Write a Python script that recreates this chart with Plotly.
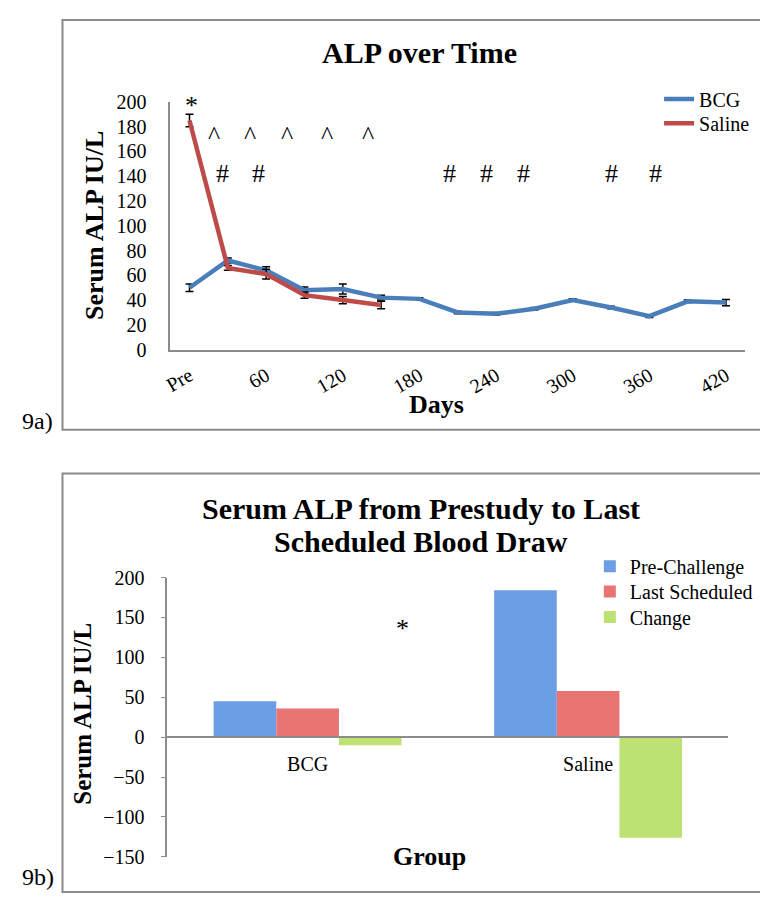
import plotly.graph_objects as go

# page body has an 8px margin, so the figure is sized to fill the window exactly
W, H = 752, 893
OFF = 8

# ---- 9a: ALP over time ----
days = ["Pre", "30", "60", "90", "120", "150", "180", "210", "240",
        "270", "300", "330", "360", "390", "420"]
bcg_alp = [50, 72, 64, 48, 49, 42, 41, 30, 29, 33, 40, 34, 27, 39, 38]
bcg_err = [3, 2, 3, 2.5, 4, 2, 1, 1, 1, 1, 1, 1, 1, 1, 2.5]
saline_days = days[:6]
saline_alp = [185, 66, 61, 44, 40, 36]
saline_err = [5, 2, 4, 2.5, 3, 3]
tick_days = days[::2]

# significance marks: (category index, value, symbol)
star_marks = [(0.05, 197, "*")]
caret_marks = [(0.64, 173, "^"), (1.59, 173, "^"), (2.55, 173, "^"),
               (3.6, 173, "^"), (4.66, 173, "^")]
hash_marks = [(0.87, 142, "#"), (1.8, 142, "#"), (6.78, 142, "#"),
              (7.74, 142, "#"), (8.72, 142, "#"), (11.02, 142, "#"),
              (12.15, 142, "#")]

# ---- 9b: prestudy vs last scheduled ----
groups = ["BCG", "Saline"]
pre_challenge = [45, 184]
last_scheduled = [36, 58]
change = [-10, -126]

FONT = "Liberation Serif"
AXIS_GREY = "#8c8c8c"
BLUE_LINE = "#4a7ebb"
RED_LINE = "#be4b48"


def px(x):
    return (x - OFF) / W


def py(y):
    return 1 - (y - OFF) / H


fig = go.Figure()

# line traces (top panel), each with its own legend box
fig.add_trace(go.Scatter(
    x=days, y=bcg_alp, name="BCG", mode="lines",
    line=dict(color=BLUE_LINE, width=4.5),
    error_y=dict(type="data", array=bcg_err, color="black", thickness=1.5, width=4),
    xaxis="x", yaxis="y", legend="legend",
))
fig.add_trace(go.Scatter(
    x=saline_days, y=saline_alp, name="Saline", mode="lines",
    line=dict(color=RED_LINE, width=4.5),
    error_y=dict(type="data", array=saline_err, color="black", thickness=1.5, width=4),
    xaxis="x", yaxis="y", legend="legend2",
))

# bar traces (bottom panel)
bar_series = [("Pre-Challenge", pre_challenge, "#6c9ee6", "legend3"),
              ("Last Scheduled", last_scheduled, "#e87474", "legend4"),
              ("Change", change, "#bde172", "legend5")]
for name, vals, col, leg in bar_series:
    fig.add_trace(go.Bar(
        x=groups, y=vals, name=name, marker=dict(color=col, line=dict(width=0)),
        xaxis="x2", yaxis="y2", legend=leg,
    ))

# bottom axis geometry: x axis line sits on y = 0
b_top, b_bot = 580.7, 867
b_range = [-150, 200]
b_dom = [py(b_bot), py(b_top)]
zero_pos = b_dom[0] + (0 - b_range[0]) / (b_range[1] - b_range[0]) * (b_dom[1] - b_dom[0])

tickfont = dict(family=FONT, size=20, color="black")


def legend_box(text_x, row_y):
    # plotly puts the legend text 40px right of the legend's left edge
    return dict(
        x=px(text_x - 40), y=py(row_y), xanchor="left", yanchor="middle",
        font=dict(family=FONT, size=20, color="black"),
        bgcolor="rgba(0,0,0,0)", borderwidth=0,
    )


fig.update_layout(
    width=W, height=H,
    margin=dict(l=0, r=0, t=0, b=0),
    paper_bgcolor="white", plot_bgcolor="white",
    font=dict(family=FONT, color="black"),
    showlegend=True,
    barmode="group", bargap=0.33, bargroupgap=0,
    xaxis=dict(
        domain=[px(164), px(745)], type="category", range=[-0.5, 14.5],
        tickmode="array", tickvals=tick_days, tickangle=-30,
        showline=True, linecolor=AXIS_GREY, linewidth=1.5,
        ticks="", showgrid=False, zeroline=False, tickfont=tickfont,
        ticklabelstandoff=5, anchor="y",
    ),
    yaxis=dict(
        domain=[py(347), py(93)], range=[0, 200], dtick=20,
        showline=True, linecolor=AXIS_GREY, linewidth=1.5,
        ticks="", showgrid=False, zeroline=False, tickfont=tickfont,
        ticklabelstandoff=18, anchor="x",
    ),
    xaxis2=dict(
        domain=[px(161), px(728)], type="category",
        showline=True, linecolor=AXIS_GREY, linewidth=2,
        ticks="", showgrid=False, zeroline=False, tickfont=tickfont,
        anchor="free", position=zero_pos, ticklabelstandoff=9,
    ),
    yaxis2=dict(
        domain=b_dom, range=b_range, dtick=50,
        showline=True, linecolor=AXIS_GREY, linewidth=1.5,
        ticks="outside", ticklen=5, tickcolor=AXIS_GREY,
        showgrid=False, zeroline=False, tickfont=tickfont,
        ticklabelstandoff=12, anchor="x2",
    ),
    legend=legend_box(698, 90),
    legend2=legend_box(698, 115),
    legend3=legend_box(628, 569),
    legend4=legend_box(628, 595),
    legend5=legend_box(628, 621),
)

annotations = []


def paper_text(x, y, text, size, bold=False, angle=0):
    annotations.append(dict(
        xref="paper", yref="paper", x=px(x), y=py(y), text=text,
        showarrow=False, xanchor="center", yanchor="middle", textangle=angle,
        font=dict(family=FONT, size=size, color="black",
                  weight="bold" if bold else "normal"),
    ))


# titles and axis titles
paper_text(416, 42, "ALP over Time", 30, bold=True)
paper_text(88, 220, "Serum ALP IU/L", 26, bold=True, angle=-90)
paper_text(433, 403, "Days", 26, bold=True)
paper_text(417, 510, "Serum ALP from Prestudy to Last", 30, bold=True)
paper_text(417, 544, "Scheduled Blood Draw", 30, bold=True)
paper_text(75, 720, "Serum ALP IU/L", 25, bold=True, angle=-90)
paper_text(426, 867, "Group", 26, bold=True)
paper_text(30, 420, "9a)", 24)
paper_text(30, 888, "9b)", 24)

# significance marks (top panel)
for xi, yv, s in star_marks + caret_marks + hash_marks:
    annotations.append(dict(
        xref="x", yref="y", x=xi, y=yv, text=s, showarrow=False,
        xanchor="center", yanchor="middle",
        font=dict(family=FONT, size=26, color="black"),
    ))

# star on bottom panel
annotations.append(dict(
    xref="x2", yref="y2", x=0.337, y=136, text="*", showarrow=False,
    xanchor="center", yanchor="middle",
    font=dict(family=FONT, size=26, color="black"),
))

fig.update_layout(annotations=annotations)

# panel frames (open on the right, like the cropped original)
frame = dict(type="path", xref="paper", yref="paper",
             line=dict(color="#8a8a8a", width=2), layer="below")
for top, bot in [(9, 429), (474, 903)]:
    path = "M 1.02,{t} L {l},{t} L {l},{b} L 1.02,{b}".format(
        t=py(top), b=py(bot), l=px(55))
    fig.add_shape(path=path, **frame)

fig.write_html("out.html")
